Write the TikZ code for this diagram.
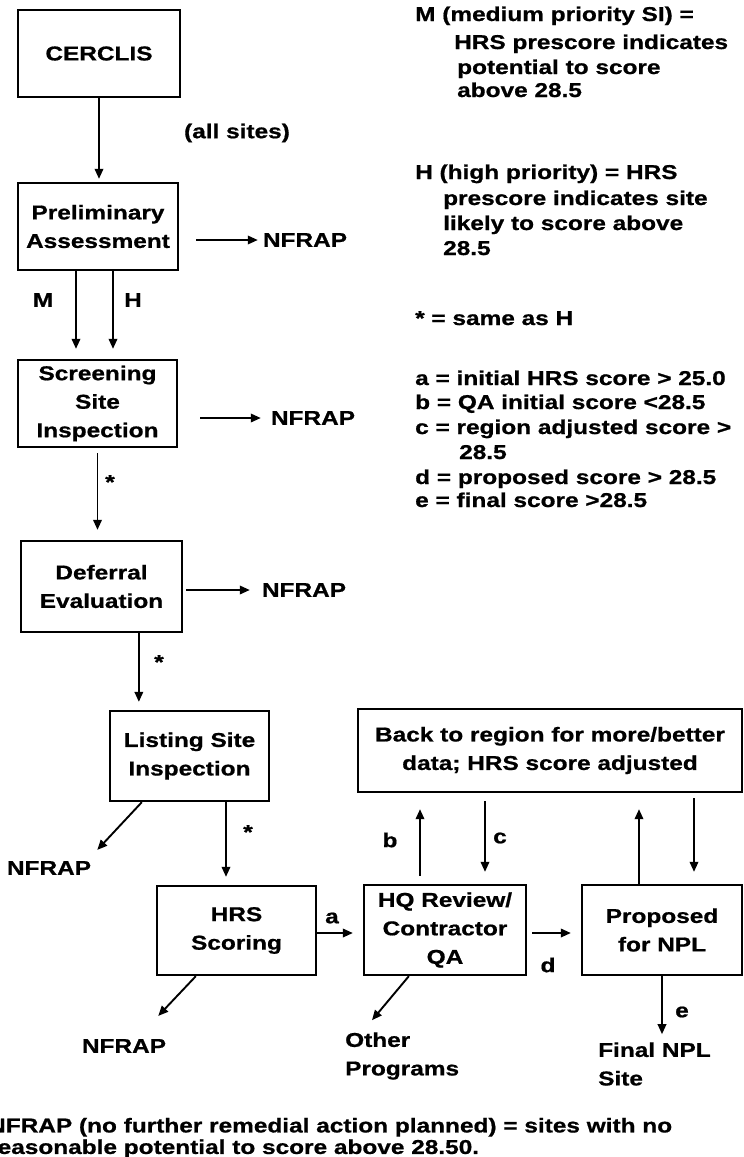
\documentclass[tikz,border=0pt]{standalone}
\usepackage{fontspec}
\setmainfont{Liberation Sans}[FakeStretch=1.22,FakeBold=0.8]
\usetikzlibrary{arrows.meta,calc}
\begin{document}
\begin{tikzpicture}[x=1pt,y=-1pt,
  font=\bfseries\fontsize{20}{28.5}\selectfont,
  box/.style={draw, line width=2.3pt, align=center, inner sep=0pt},
  arr/.style={line width=1.9pt, -{Triangle[length=10pt,width=8.5pt]}},
  lbl/.style={inner sep=0pt},
  leg/.style={anchor=base west, inner sep=0pt}]
\fill[white] (0,0) rectangle (744,1157);
\useasboundingbox (0,0) rectangle (744,1157);

% process stages
\node[box, minimum width=162pt, minimum height=87pt] (cer) at (99,53.5) {CERCLIS};
\node[box, minimum width=160pt, minimum height=87pt] (pa) at (98,226.5) {Preliminary\\Assessment};
\node[box, minimum width=159pt, minimum height=87pt] (ssi) at (97.5,403.5) {Screening\\Site\\Inspection};
\node[box, minimum width=161pt, minimum height=91pt] (de) at (101.5,586.5) {Deferral\\Evaluation};
\node[box, minimum width=159pt, minimum height=90pt] (lsi) at (189.5,756) {Listing Site\\Inspection};
\node[box, minimum width=159pt, minimum height=89pt] (hrs) at (236.5,930.5) {HRS\\Scoring};
\node[box, minimum width=162pt, minimum height=90pt] (hq) at (445,930) {HQ Review/\\Contractor\\QA};
\node[box, minimum width=160pt, minimum height=90pt] (prop) at (662,930) {Proposed\\for NPL};
\node[box, minimum width=384pt, minimum height=83pt] (back) at (550,750.5) {Back to region for more/better\\data; HRS score adjusted};

% outcomes
\node[lbl] (allsites) at (237,133) {(all sites)};
\node[lbl] (nfpa) at (305,240) {NFRAP};
\node[lbl] (nfssi) at (313,418) {NFRAP};
\node[lbl] (nfde) at (304,590) {NFRAP};
\node[lbl] (nflsi) at (49,868) {NFRAP};
\node[lbl] (nfhrs) at (124,1046) {NFRAP};
\node[lbl, align=left, anchor=west] (other) at (345,1056) {Other\\Programs};
\node[lbl, align=left, anchor=west] (final) at (598,1064) {Final NPL\\Site};

% connectors
\draw[arr, shorten >=3pt] (cer.south) -- (cer.south |- pa.north);
\draw[arr, shorten <=17pt, shorten >=5pt] (pa.east |- nfpa.west) -- (nfpa.west);
\draw[arr, shorten >=10pt] ([xshift=-22pt]pa.south) -- ([xshift=-22pt]pa.south |- ssi.north);
\draw[arr, shorten >=10pt] ([xshift=15pt]pa.south) -- ([xshift=15pt]pa.south |- ssi.north);
\draw[arr, shorten <=22pt, shorten >=10pt] (ssi.east |- nfssi.west) -- (nfssi.west);
\draw[arr, shorten <=5pt, shorten >=10pt] (ssi.south) -- (ssi.south |- de.north);
\draw[arr, shorten <=3pt, shorten >=12pt] (de.east |- nfde.west) -- (nfde.west);
\coordinate (lsiin) at ([xshift=30pt]lsi.north west);
\draw[arr, shorten >=8pt] (de.south -| lsiin) -- (lsiin);
\draw[arr] ([xshift=33pt]lsi.south west) -- ($(nflsi.north east)+(6,-11)$);
\draw[arr, shorten >=8pt] ([xshift=36.5pt]lsi.south) -- ([xshift=36.5pt]lsi.south |- hrs.north);
\draw[arr, shorten >=10pt] ($(hrs.east)+(0,2.5)$) -- ($(hrs.east -| hq.west)+(0,2.5)$);
\draw[arr, shorten <=5pt, shorten >=10pt] ($(hq.east)+(0,3)$) -- ($(hq.east -| prop.west)+(0,3)$);
\draw[arr, shorten <=8pt, shorten >=16pt] ([xshift=-25pt]hq.north) -- ([xshift=-25pt]hq.north |- back.south);
\draw[arr, shorten <=8pt, shorten >=12pt] ([xshift=40pt]hq.north |- back.south) -- ([xshift=40pt]hq.north);
\draw[arr, shorten >=16pt] ([xshift=-23pt]prop.north) -- ([xshift=-23pt]prop.north |- back.south);
\draw[arr, shorten <=5pt, shorten >=12pt] ([xshift=32pt]prop.north |- back.south) -- ([xshift=32pt]prop.north);
\draw[arr] ([xshift=40pt]hrs.south west) -- ($(nfhrs.north east)+(-8,-23)$);
\draw[arr] ([xshift=46pt]hq.south west) -- ($(other.north west)+(27,-12)$);
\draw[arr, shorten >=8pt] (prop.south) -- (prop.south |- final.north);

% connector labels
\node[lbl] (lm) at (43,300) {M};
\node[lbl] (lh) at (133,300) {H};
\node[lbl] (s1) at (110,482) {*};
\node[lbl] (s2) at (159,662) {*};
\node[lbl] (s3) at (248,832) {*};
\node[lbl] (la) at (332,918) {a};
\node[lbl] (lb) at (390,840) {b};
\node[lbl] (lc) at (500,838) {c};
\node[lbl] (ld) at (548,965) {d};
\node[lbl] (le) at (682,1012) {e};

% key
\node[leg] (k1) at (415,21) {M (medium priority SI) =};
\node[leg] (k2) at (454,49) {HRS prescore indicates};
\node[leg] (k3) at (457,74) {potential to score};
\node[leg] (k4) at (457,97) {above 28.5};
\node[leg] (k5) at (415,179) {H (high priority) = HRS};
\node[leg] (k6) at (443,205) {prescore indicates site};
\node[leg] (k7) at (443,230) {likely to score above};
\node[leg] (k8) at (443,255) {28.5};
\node[leg] (k9) at (415,325) {* = same as H};
\node[leg] (ka) at (415,385) {a = initial HRS score > 25.0};
\node[leg] (kb) at (415,409) {b = QA initial score <28.5};
\node[leg] (kc) at (415,434) {c = region adjusted score >};
\node[leg] (kc2) at (459,459) {28.5};
\node[leg] (kd) at (415,484) {d = proposed score > 28.5};
\node[leg] (ke) at (415,507) {e = final score >28.5};

% footnote
\node[lbl, align=left, anchor=west, font=\bfseries\fontsize{20}{21.5}\selectfont] (note) at (-12,1138)
  {NFRAP (no further remedial action planned) = sites with no\\reasonable potential to score above 28.50.};
\end{tikzpicture}
\end{document}
